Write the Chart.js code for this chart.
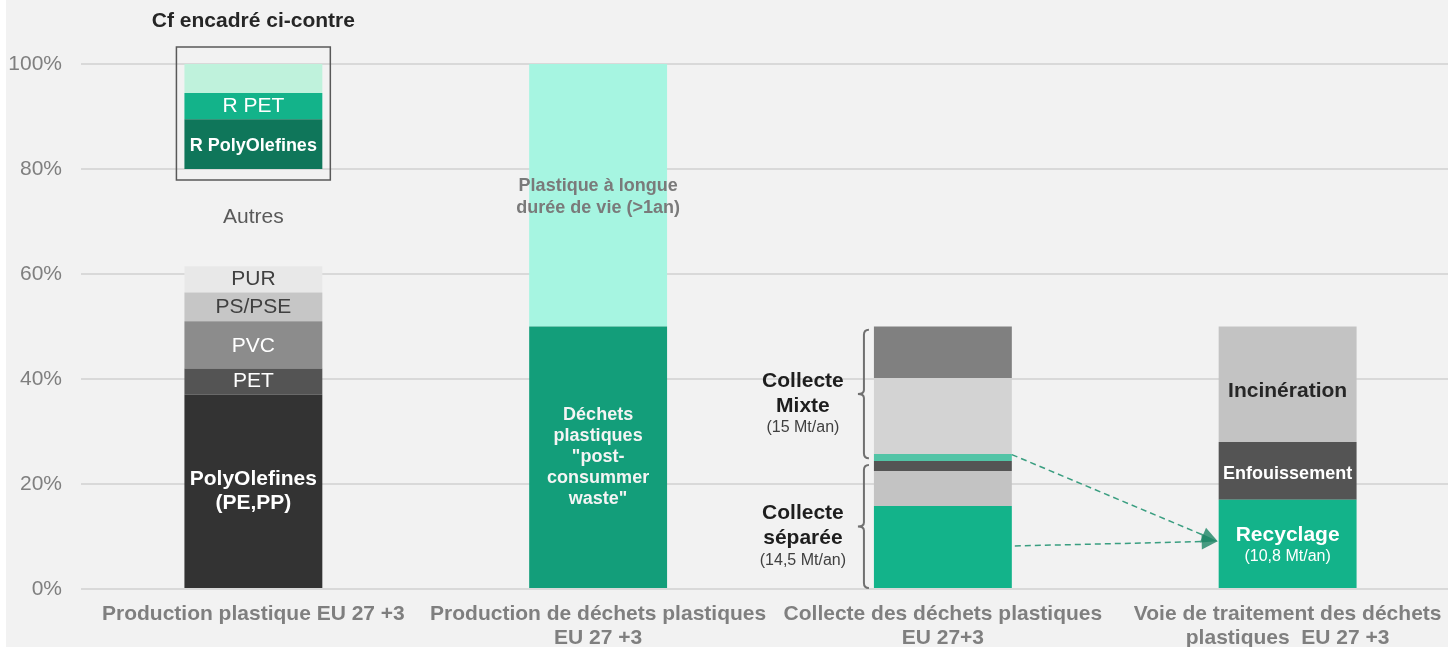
<!DOCTYPE html>
<html lang="fr">
<head>
<meta charset="utf-8">
<title>Plastiques EU 27 +3</title>
<script src="https://cdn.jsdelivr.net/npm/chart.js@4.4.1/dist/chart.umd.min.js"></script>
<style>
    html, body { margin: 0; padding: 0; background: #ffffff; overflow: hidden; }
    #wrap { position: absolute; left: 6px; top: 0; width: 1460px; height: 647px; background: #f2f2f2; }
</style>
</head>
<body>
<div id="wrap"><canvas id="chart"></canvas></div>
<script>
// categories (x axis)
const categories = [
    ["Production plastique EU 27 +3"],
    ["Production de déchets plastiques", "EU 27 +3"],
    ["Collecte des déchets plastiques", "EU 27+3"],
    ["Voie de traitement des déchets", "plastiques  EU 27 +3"]
];
const yTicks = [0, 20, 40, 60, 80, 100];

// column 1 : production par résine (%), bas -> haut
const productionNames = ["PolyOlefines (PE,PP)", "PET", "PVC", "PS/PSE", "PUR", "Autres", "R PolyOlefines", "R PET", "R Autres"];
const productionValues = [37, 5, 9, 5.5, 5, 18.5, 9.5, 5, 5.5];

// column 2 : production de déchets
const dechetsNames = ["Déchets post-consumer", "Longue durée de vie"];
const dechetsValues = [50, 50];

// column 3 : collecte (séparée puis mixte)
const collecteNames = ["Séparée recyclée", "Séparée autre", "Séparée enfouie", "Mixte recyclée", "Mixte incinérée", "Mixte enfouie"];
const collecteValues = [15.8, 6.7, 1.9, 1.3, 14.5, 9.8];

// column 4 : voie de traitement
const traitementNames = ["Recyclage", "Enfouissement", "Incinération"];
const traitementValues = [17, 11, 22];

// annotations in axis units
const bracketRanges = [[24.9, 49.4], [0.2, 23.6]];
const arrowStarts = [25.6, 8.2];
const arrowEnd = 9.1;
const insetRange = [80, 100];

const FONT = "'Liberation Sans', Arial, sans-serif";
const f = (s) => s + " " + FONT;

const styles = [
    [
        { color: "#333333", text: ["PolyOlefines", "(PE,PP)"], font: f("bold 21px"), fc: "#ffffff", lh: 24 },
        { color: "#545454", text: ["PET"], font: f("21px"), fc: "#ffffff" },
        { color: "#8c8c8c", text: ["PVC"], font: f("21px"), fc: "#ffffff", dy: 1 },
        { color: "#c6c6c6", text: ["PS/PSE"], font: f("21px"), fc: "#404040" },
        { color: "#e8e8e8", text: ["PUR"], font: f("21px"), fc: "#404040" },
        { color: "rgba(0,0,0,0)", text: ["Autres"], font: f("21px"), fc: "#595959" },
        { color: "#0f765a", text: ["R PolyOlefines"], font: f("bold 18px"), fc: "#ffffff", dy: 2 },
        { color: "#13b38a", text: ["R PET"], font: f("21px"), fc: "#ffffff" },
        { color: "#bff2dc", text: [] }
    ],
    [
        { color: "#139e7a", text: ["Déchets", "plastiques", "\"post-", "consummer", "waste\""], font: f("bold 18px"), fc: "#f4f4f4", lh: 21 },
        { color: "#a6f5e1", text: ["Plastique à longue", "durée de vie (>1an)"], font: f("bold 18px"), fc: "#7a7a7a", lh: 22, dy: 2 }
    ],
    [
        { color: "#13b38a", text: [] },
        { color: "#c3c3c3", text: [] },
        { color: "#545454", text: [] },
        { color: "#52c4a6", text: [] },
        { color: "#d3d3d3", text: [] },
        { color: "#808080", text: [] }
    ],
    [
        { color: "#13b38a", text: ["Recyclage", "(10,8 Mt/an)"], font: [f("bold 21px"), f("16px")], fc: "#ffffff", lh: 22, dy: 2 },
        { color: "#545454", text: ["Enfouissement"], font: f("bold 18px"), fc: "#ffffff", dy: 3 },
        { color: "#c3c3c3", text: ["Incinération"], font: f("bold 21px"), fc: "#262626", dy: 7 }
    ]
];

const columns = [
    [productionNames, productionValues],
    [dechetsNames, dechetsValues],
    [collecteNames, collecteValues],
    [traitementNames, traitementValues]
];

const datasets = [];
columns.forEach(([names, values], col) => {
    values.forEach((v, i) => {
        datasets.push({
            label: names[i],
            data: categories.map((_, k) => (k === col ? v : null)),
            backgroundColor: styles[col][i].color,
            borderWidth: 0,
            seg: styles[col][i],
            col: col
        });
    });
});

function barAt(chart, col) {
    // first dataset of that column gives x / width
    const idx = chart.data.datasets.findIndex(d => d.col === col);
    const el = chart.getDatasetMeta(idx).data[col];
    return { x: el.x, half: el.width / 2 };
}

const labelsPlugin = {
    id: "segLabels",
    afterDatasetsDraw(chart) {
        const ctx = chart.ctx;
        const y = chart.scales.y;
        ctx.save();
        ctx.textAlign = "center";
        ctx.textBaseline = "middle";

        chart.data.datasets.forEach((ds, i) => {
            const s = ds.seg;
            if (!s.text.length) return;
            const el = chart.getDatasetMeta(i).data[ds.col];
            const mid = (el.y + el.base) / 2 + (s.dy || 0);
            const lh = s.lh || 22;
            const start = mid - (s.text.length - 1) * lh / 2;
            s.text.forEach((t, k) => {
                ctx.font = Array.isArray(s.font) ? s.font[k] : s.font;
                ctx.fillStyle = s.fc;
                ctx.fillText(t, el.x, start + k * lh);
            });
        });

        // encadré colonne 1
        const b1 = barAt(chart, 0);
        const top = y.getPixelForValue(insetRange[1]) - 17;
        const bot = y.getPixelForValue(insetRange[0]) + 11;
        ctx.strokeStyle = "#595959";
        ctx.lineWidth = 1.5;
        ctx.strokeRect(b1.x - b1.half - 8, top, 2 * b1.half + 16, bot - top);
        ctx.font = f("bold 21px");
        ctx.fillStyle = "#262626";
        ctx.fillText("Cf encadré ci-contre", b1.x, top - 26);

        // accolades colonne 3
        const b3 = barAt(chart, 2);
        const bx = b3.x - b3.half - 10;
        ctx.strokeStyle = "#707070";
        ctx.lineWidth = 2;
        bracketRanges.forEach(([lo, hi]) => {
            const t = y.getPixelForValue(hi), bo = y.getPixelForValue(lo), m = (t + bo) / 2;
            ctx.beginPath();
            ctx.moveTo(bx + 5, t);
            ctx.quadraticCurveTo(bx, t, bx, t + 5);
            ctx.lineTo(bx, m - 4);
            ctx.quadraticCurveTo(bx, m, bx - 6, m);
            ctx.quadraticCurveTo(bx, m, bx, m + 4);
            ctx.lineTo(bx, bo - 5);
            ctx.quadraticCurveTo(bx, bo, bx + 5, bo);
            ctx.stroke();
        });

        const side = [
            [["Collecte", "Mixte", "(15 Mt/an)"], bracketRanges[0]],
            [["Collecte", "séparée", "(14,5 Mt/an)"], bracketRanges[1]]
        ];
        const offs = [-13, 12, 34];
        side.forEach(([lines, [lo, hi]]) => {
            const m = (y.getPixelForValue(lo) + y.getPixelForValue(hi)) / 2;
            lines.forEach((t, k) => {
                ctx.font = k < 2 ? f("bold 21px") : f("16px");
                ctx.fillStyle = k < 2 ? "#1e1e1e" : "#404040";
                ctx.fillText(t, bx - 61, m + offs[k]);
            });
        });

        // flèches vers Recyclage
        const b4 = barAt(chart, 3);
        const ex = b4.x - b4.half - 1, ey = y.getPixelForValue(arrowEnd);
        arrowStarts.forEach((v, k) => {
            const sx = b3.x + b3.half + (k ? 3 : 0), sy = y.getPixelForValue(v);
            const ang = Math.atan2(ey - sy, ex - sx);
            const len = 16;
            ctx.strokeStyle = "#3a9e80";
            ctx.lineWidth = 1.5;
            ctx.setLineDash([6, 4]);
            ctx.beginPath();
            ctx.moveTo(sx, sy);
            ctx.lineTo(ex - len * Math.cos(ang), ey - len * Math.sin(ang));
            ctx.stroke();
            ctx.setLineDash([]);
            ctx.fillStyle = "rgba(26,132,100,0.8)";
            ctx.beginPath();
            ctx.moveTo(ex, ey);
            ctx.lineTo(ex - len * Math.cos(ang) + 8 * Math.sin(ang), ey - len * Math.sin(ang) - 8 * Math.cos(ang));
            ctx.lineTo(ex - len * Math.cos(ang) - 8 * Math.sin(ang), ey - len * Math.sin(ang) + 8 * Math.cos(ang));
            ctx.closePath();
            ctx.fill();
        });
        ctx.restore();
    }
};

Chart.defaults.font.family = FONT;

new Chart(document.getElementById("chart"), {
    type: "bar",
    data: { labels: categories, datasets: datasets },
    options: {
        responsive: true,
        maintainAspectRatio: false,
        animation: false,
        events: [],
        layout: { padding: { top: 64, right: 6, left: 0, bottom: 0 } },
        plugins: { legend: { display: false }, tooltip: { enabled: false } },
        datasets: { bar: { barPercentage: 0.4, categoryPercentage: 1 } },
        scales: {
            x: {
                stacked: true,
                grid: { display: false, drawTicks: false },
                border: { display: false },
                ticks: {
                    color: "#7f7f7f",
                    font: { size: 21, weight: "bold", lineHeight: 1.15 },
                    padding: 13,
                    maxRotation: 0,
                    autoSkip: false
                },
                afterFit(scale) { scale.height = 58; }
            },
            y: {
                stacked: true,
                min: 0,
                max: 100,
                afterBuildTicks(scale) { scale.ticks = yTicks.map(v => ({ value: v })); },
                grid: { color: "#d9d9d9", lineWidth: 2, drawTicks: false },
                border: { display: false },
                ticks: {
                    color: "#7f7f7f",
                    font: { size: 21 },
                    padding: 19,
                    callback: v => v + "%"
                },
                afterFit(scale) { scale.width = 75; }
            }
        }
    },
    plugins: [labelsPlugin]
});
</script>
</body>
</html>
